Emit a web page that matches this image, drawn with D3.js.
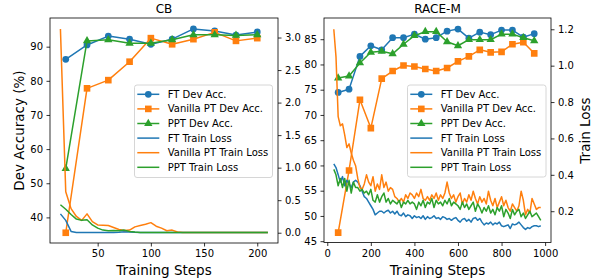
<!DOCTYPE html>
<html><head><meta charset="utf-8">
<script src="https://cdn.jsdelivr.net/npm/d3@7"></script>
<style>body{margin:0;background:#fff} svg{display:block} text{font-family:"DejaVu Sans",sans-serif;fill:#000}</style>
</head><body><svg id="c" width="595" height="280"></svg>
<script>
// ---------- CB ----------
const cbDevSteps = [20,40,60,80,100,120,140,160,180,200];
const cbFtDev    = [86.3,90.5,93.1,92.2,90.7,92.2,95.2,94.6,93.4,94.3];
const cbVanDev   = [35.5,77.8,80.2,85.6,92.5,90.7,92.2,94.2,91.7,92.5];
const cbPptDev   = [54.3,91.7,92.0,91.0,91.0,92.0,93.5,93.5,93.3,93.5];
const cbLossSteps = [15,20,25,30,35,40,45,50,55,60,65,70,75,80,85,90,95,100,105,110,115,120,125,130,135,140,145,150,155,160,165,170,175,180,185,190,195,200,205,210];
const cbFtLoss  = [0.29,0.19,0.02,0.004,0.003,0.003,0.003,0.003,0.003,0.003,0.003,0.008,0.015,0.012,0.006,0.004,0.004,0.004,0.004,0.004,0.004,0.004,0.004,0.004,0.004,0.004,0.004,0.004,0.004,0.004,0.004,0.004,0.004,0.004,0.004,0.004,0.004,0.004,0.004,0.004];
const cbVanLoss = [3.13,0.63,0.37,0.25,0.19,0.29,0.17,0.12,0.115,0.11,0.08,0.05,0.035,0.04,0.09,0.11,0.13,0.155,0.10,0.07,0.03,0.04,0.01,0.005,0.005,0.005,0.005,0.005,0.005,0.005,0.005,0.005,0.005,0.005,0.005,0.005,0.005,0.005,0.005,0.005];
const cbPptLoss = [0.43,0.36,0.28,0.21,0.19,0.20,0.12,0.07,0.04,0.03,0.035,0.03,0.04,0.02,0.01,0.005,0.005,0.005,0.005,0.005,0.005,0.005,0.005,0.005,0.005,0.005,0.005,0.005,0.005,0.005,0.005,0.005,0.005,0.005,0.005,0.005,0.005,0.005,0.005,0.005];

// ---------- RACE-M ----------
const raceDevSteps = [50,100,150,200,250,300,350,400,450,500,550,600,650,700,750,800,850,900,950];
const raceFtDev  = [74.45,75.1,81.6,83.7,82.9,85.3,85.3,86.0,85.0,85.3,86.6,87.0,85.2,86.4,85.9,86.8,86.8,85.4,86.1];
const raceVanDev = [46.7,59.0,73.0,67.4,77.2,78.7,79.8,79.6,79.1,78.7,79.3,80.6,81.6,82.9,82.4,82.5,84.0,84.4,82.2];
const racePptDev = [77.3,77.7,80.3,82.4,82.6,82.1,84.0,85.7,86.5,86.5,84.5,83.7,84.9,84.9,84.9,86.0,86.0,85.3,84.7];
const raceLossSteps = [30,40,50,60,70,80,90,100,110,120,130,140,150,160,170,180,190,200,210,220,230,240,250,260,270,280,290,300,310,320,330,340,350,360,370,380,390,400,410,420,430,440,450,460,470,480,490,500,510,520,530,540,550,560,570,580,590,600,610,620,630,640,650,660,670,680,690,700,710,720,730,740,750,760,770,780,790,800,810,820,830,840,850,860,870,880,890,900,910,920,930,940,950,960,970,980];
const raceFtLoss = [0.46,0.44,0.40,0.36,0.39,0.34,0.37,0.35,0.33,0.36,
 0.37,0.36,0.34,0.31,0.28,0.27,0.25,0.23,0.21,0.18,
 0.19,0.20,0.20,0.19,0.20,0.205,0.19,0.20,0.185,0.20,
 0.18,0.175,0.19,0.17,0.18,0.175,0.16,0.175,0.165,0.17,
 0.16,0.175,0.155,0.17,0.16,0.165,0.175,0.16,0.165,0.155,
 0.17,0.165,0.155,0.16,0.15,0.16,0.165,0.15,0.14,0.155,
 0.16,0.145,0.155,0.14,0.16,0.165,0.15,0.16,0.14,0.125,
 0.135,0.13,0.14,0.125,0.135,0.13,0.14,0.12,0.115,0.12,
 0.125,0.105,0.13,0.125,0.13,0.14,0.125,0.11,0.10,0.11,
 0.105,0.115,0.12,0.12,0.115,0.12];
const raceVanLoss = [1.2,1.05,0.72,0.67,0.68,0.62,0.55,0.57,0.52,0.48,
 0.45,0.38,0.33,0.32,0.35,0.40,0.36,0.34,0.39,0.31,
 0.35,0.32,0.40,0.33,0.36,0.31,0.33,0.32,0.28,0.27,
 0.25,0.27,0.25,0.29,0.27,0.30,0.29,0.27,0.30,0.28,
 0.32,0.27,0.26,0.28,0.26,0.29,0.27,0.30,0.26,0.29,
 0.27,0.30,0.36,0.30,0.27,0.29,0.25,0.28,0.30,0.24,
 0.27,0.25,0.29,0.26,0.31,0.27,0.24,0.28,0.25,0.27,
 0.24,0.31,0.26,0.23,0.27,0.22,0.25,0.28,0.23,0.26,
 0.22,0.20,0.24,0.22,0.20,0.23,0.31,0.26,0.18,0.21,
 0.19,0.27,0.24,0.21,0.22,0.22];
const racePptLoss = [0.43,0.40,0.34,0.38,0.33,0.38,0.31,0.37,0.30,0.36,
 0.33,0.33,0.31,0.32,0.30,0.31,0.29,0.32,0.26,0.25,
 0.29,0.25,0.28,0.30,0.25,0.27,0.24,0.26,0.25,0.24,
 0.26,0.22,0.25,0.24,0.26,0.24,0.25,0.24,0.21,0.25,
 0.23,0.26,0.22,0.25,0.24,0.27,0.22,0.26,0.24,0.25,
 0.23,0.26,0.24,0.27,0.23,0.25,0.24,0.23,0.21,0.25,
 0.22,0.24,0.21,0.23,0.25,0.20,0.24,0.22,0.19,0.22,
 0.20,0.23,0.19,0.21,0.18,0.22,0.20,0.23,0.17,0.21,
 0.19,0.16,0.21,0.18,0.20,0.21,0.17,0.19,0.16,0.18,
 0.20,0.17,0.18,0.19,0.17,0.15];

// ---------- ticks & labels ----------
const cbXTicks = [50,100,150,200];
const cbYLTicks = [40,50,60,70,80,90];
const cbYRTicks = [0,0.5,1.0,1.5,2.0,2.5,3.0];
const raceXTicks = [0,200,400,600,800,1000];
const raceYLTicks = [45,50,55,60,65,70,75,80,85];
const raceYRTicks = [0.2,0.4,0.6,0.8,1.0,1.2];
const legendLabels = ["FT Dev Acc.","Vanilla PT Dev Acc.","PPT Dev Acc.","FT Train Loss","Vanilla PT Train Loss","PPT Train Loss"];

const COL = {ft:'#1f77b4', van:'#ff7f0e', ppt:'#2ca02c'};
const svg = d3.select('#c');

function panel(cfg){
  const b = cfg.box;
  const x = d3.scaleLinear().domain(cfg.xd).range([b.x0,b.x1]);
  const yl = d3.scaleLinear().domain(cfg.yld).range([b.y1,b.y0]);
  const yr = d3.scaleLinear().domain(cfg.yrd).range([b.y1,b.y0]);
  const cid = 'clip'+cfg.id;
  svg.append('clipPath').attr('id',cid).append('rect')
    .attr('x',b.x0).attr('y',b.y0).attr('width',b.x1-b.x0).attr('height',b.y1-b.y0);
  const pg = svg.append('g').attr('clip-path',`url(#${cid})`);
  const devSeries = [
    {v:cfg.ftDev,c:COL.ft,sym:d3.symbolCircle,size:36},
    {v:cfg.vanDev,c:COL.van,sym:d3.symbolSquare,size:44},
    {v:cfg.pptDev,c:COL.ppt,sym:d3.symbolTriangle,size:30}
  ];
  devSeries.forEach(s=>{
    const data = cfg.devSteps.map((d,i)=>[d,s.v[i]]);
    pg.append('path').datum(data)
      .attr('d',d3.line().x(d=>x(d[0])).y(d=>yl(d[1])))
      .attr('fill','none').attr('stroke',s.c).attr('stroke-width',1.5).attr('stroke-linejoin','round');
    pg.selectAll(null).data(data).enter().append('path')
      .attr('transform',d=>`translate(${x(d[0])},${yl(d[1])})`)
      .attr('d',d3.symbol().type(s.sym).size(s.size)).attr('fill',s.c);
  });
  const lossSeries = [{v:cfg.ftLoss,c:COL.ft},{v:cfg.vanLoss,c:COL.van},{v:cfg.pptLoss,c:COL.ppt}];
  lossSeries.forEach(s=>{
    const data = cfg.lossSteps.map((d,i)=>[d,s.v[i]]);
    pg.append('path').datum(data)
      .attr('d',d3.line().x(d=>x(d[0])).y(d=>yr(d[1])))
      .attr('fill','none').attr('stroke',s.c).attr('stroke-width',1.5).attr('stroke-linejoin','round');
  });
  // spines
  svg.append('rect').attr('x',b.x0).attr('y',b.y0).attr('width',b.x1-b.x0).attr('height',b.y1-b.y0)
    .attr('fill','none').attr('stroke','#000').attr('stroke-width',0.8);
  // axes
  const style = g=>{ g.select('.domain').remove();
    g.selectAll('.tick line').attr('stroke','#000').attr('stroke-width',0.8);
    g.selectAll('.tick text').attr('font-size',10).attr('font-family','DejaVu Sans').attr('fill','#000'); };
  svg.append('g').attr('transform',`translate(0,${b.y1})`)
    .call(d3.axisBottom(x).tickValues(cfg.xt).tickSize(3.5).tickPadding(3.5).tickFormat(d3.format('d'))).call(style);
  svg.append('g').attr('transform',`translate(${b.x0},0)`)
    .call(d3.axisLeft(yl).tickValues(cfg.ylt).tickSize(3.5).tickPadding(3.5).tickFormat(d3.format('d'))).call(style);
  svg.append('g').attr('transform',`translate(${b.x1},0)`)
    .call(d3.axisRight(yr).tickValues(cfg.yrt).tickSize(3.5).tickPadding(3.5).tickFormat(d3.format('.1f'))).call(style);
  // title
  svg.append('text').attr('x',(b.x0+b.x1)/2).attr('y',b.y0-5).attr('text-anchor','middle')
    .attr('font-size',12).text(cfg.title);
  svg.append('text').attr('x',(b.x0+b.x1)/2).attr('y',275).attr('text-anchor','middle')
    .attr('font-size',13.5).text('Training Steps');
  // legend
  const L = cfg.legend;
  const lg = svg.append('g');
  lg.append('rect').attr('x',L.x).attr('y',L.y).attr('width',L.w).attr('height',L.h).attr('rx',2.5)
    .attr('fill','#fff').attr('fill-opacity',0.8).attr('stroke','#cccccc').attr('stroke-width',0.8);
  const items = [
    {c:COL.ft,sym:d3.symbolCircle,size:36},{c:COL.van,sym:d3.symbolSquare,size:44},{c:COL.ppt,sym:d3.symbolTriangle,size:30},
    {c:COL.ft},{c:COL.van},{c:COL.ppt}];
  items.forEach((it,i)=>{
    const yy = L.y + 9.3 + i*14.6;
    lg.append('line').attr('x1',L.x+2.8).attr('x2',L.x+24.8).attr('y1',yy).attr('y2',yy)
      .attr('stroke',it.c).attr('stroke-width',1.5);
    if(it.sym) lg.append('path').attr('transform',`translate(${L.x+13.8},${yy})`)
      .attr('d',d3.symbol().type(it.sym).size(it.size)).attr('fill',it.c);
    lg.append('text').attr('x',L.x+33.2).attr('y',yy).attr('dy','0.35em').attr('font-size',10).text(legendLabels[i]);
  });
}

panel({id:'cb',title:'CB',box:{x0:50,x1:278,y0:18,y1:243},
  xd:[5.2,219.5],yld:[32.5,98.4],yrd:[-0.158,3.30],
  xt:cbXTicks,ylt:cbYLTicks,yrt:cbYRTicks,
  devSteps:cbDevSteps,ftDev:cbFtDev,vanDev:cbVanDev,pptDev:cbPptDev,
  lossSteps:cbLossSteps,ftLoss:cbFtLoss,vanLoss:cbVanLoss,pptLoss:cbPptLoss,
  legend:{x:134.5,y:85,w:138,h:92.5}});
panel({id:'race',title:'RACE-M',box:{x0:324,x1:551,y0:18,y1:242.5},
  xd:[-15,1027],yld:[44.74,89.2],yrd:[0.028,1.262],
  xt:raceXTicks,ylt:raceYLTicks,yrt:raceYRTicks,
  devSteps:raceDevSteps,ftDev:raceFtDev,vanDev:raceVanDev,pptDev:racePptDev,
  lossSteps:raceLossSteps,ftLoss:raceFtLoss,vanLoss:raceVanLoss,pptLoss:racePptLoss,
  legend:{x:407.5,y:85,w:138.5,h:92}});

svg.append('text').attr('transform','translate(19,130.5) rotate(-90)').attr('text-anchor','middle')
  .attr('dy','0.35em').attr('font-size',13.5).text('Dev Accuracy (%)');
svg.append('text').attr('transform','translate(585,130.5) rotate(-90)').attr('text-anchor','middle')
  .attr('dy','0.35em').attr('font-size',13.5).text('Train Loss');
</script></body></html>
